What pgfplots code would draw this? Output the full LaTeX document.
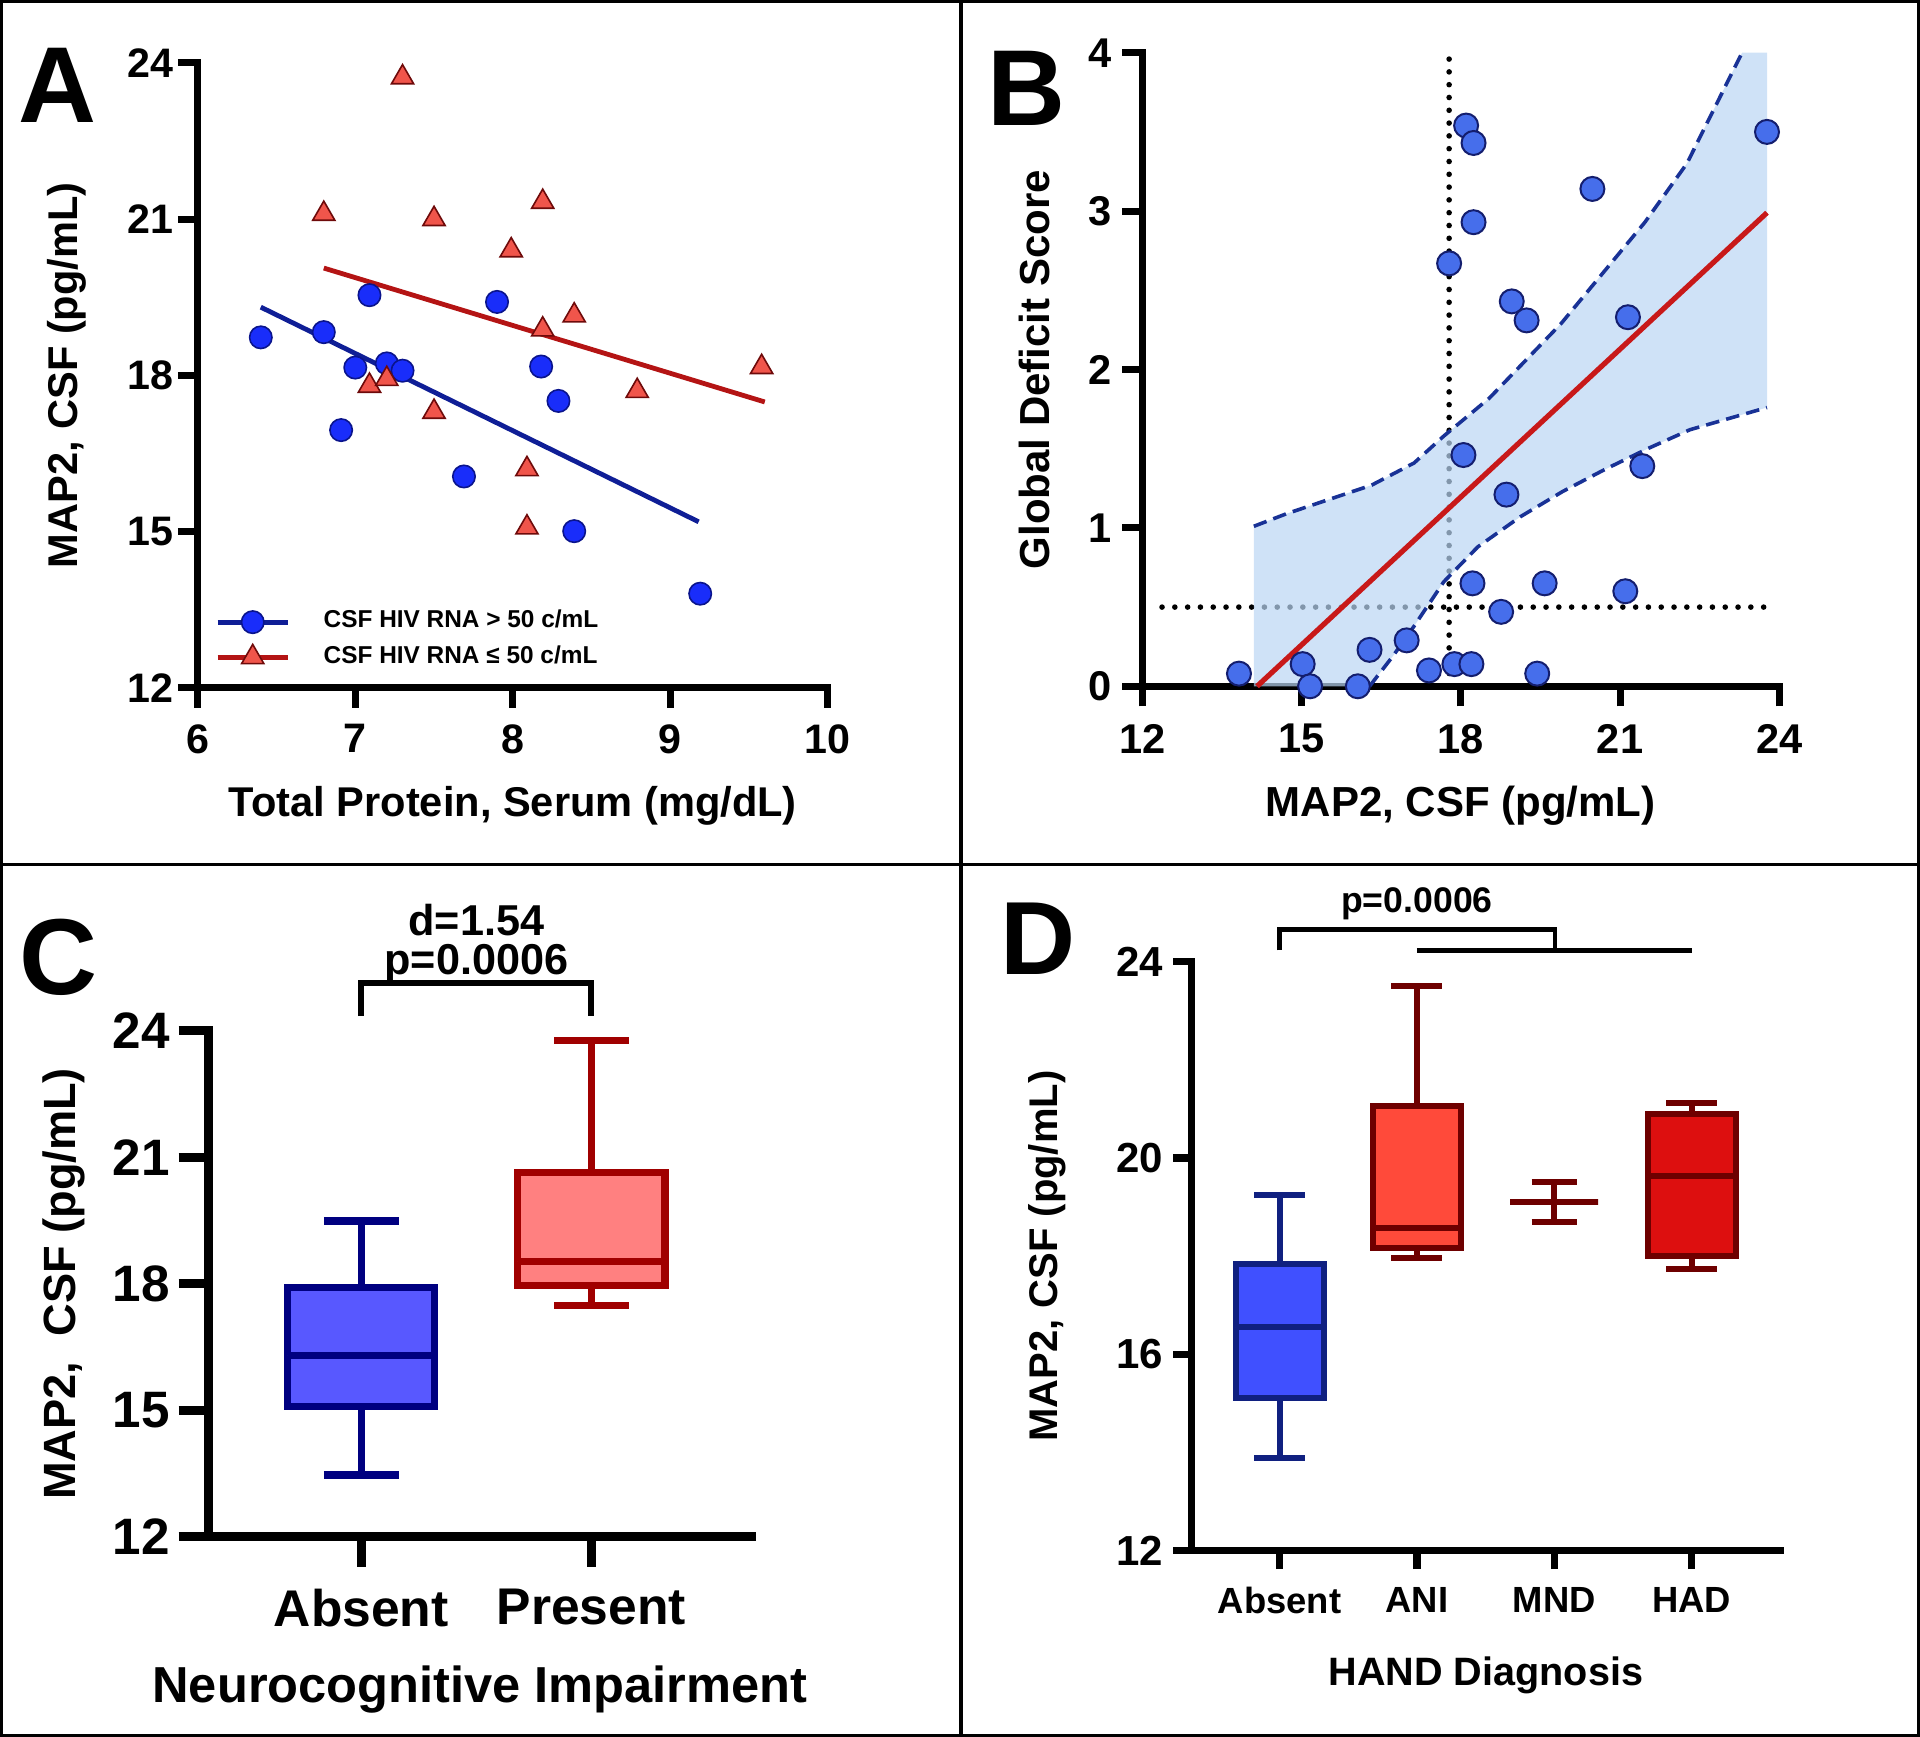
\documentclass[border=0pt]{standalone}
\usepackage{fontspec}
\setmainfont{Liberation Sans}
\usepackage{pgfplots}
\pgfplotsset{compat=1.18}
\usepgfplotslibrary{statistics}

\definecolor{aBlue}{RGB}{25,45,250}
\definecolor{aBlueEdge}{RGB}{10,20,140}
\definecolor{aBlueLine}{RGB}{15,30,150}
\definecolor{aRed}{RGB}{240,85,75}
\definecolor{aRedEdge}{RGB}{110,10,10}
\definecolor{aRedLine}{RGB}{180,20,20}
\definecolor{bDot}{RGB}{70,110,235}
\definecolor{bDotEdge}{RGB}{20,30,110}
\definecolor{bBand}{RGB}{186,214,244}
\definecolor{bDash}{RGB}{25,50,150}
\definecolor{bRed}{RGB}{200,25,25}
\definecolor{cBlue}{RGB}{88,88,255}
\definecolor{cBlueEdge}{RGB}{0,0,128}
\definecolor{cRed}{RGB}{255,128,128}
\definecolor{cRedEdge}{RGB}{160,0,0}
\definecolor{dBlue}{RGB}{64,80,255}
\definecolor{dBlueEdge}{RGB}{16,32,128}
\definecolor{dAni}{RGB}{255,74,58}
\definecolor{dHad}{RGB}{221,15,15}
\definecolor{dRedEdge}{RGB}{110,0,0}

\newcommand{\fs}[1]{\fontsize{#1}{#1}\selectfont\bfseries}

\pgfplotsset{
  prism/.style={
    scale only axis,
    axis x line*=bottom, axis y line*=left,
    axis line style={-, line width=#1, line cap=rect},
    tick align=outside,
    tick style={black, line width=#1},
    /pgf/number format/assume math mode=true,
    tick label style={inner sep=1pt},
    clip=false,
  },
  % the one dummy point given to each prepared box is hidden
  hidebox/.style={mark=*, mark size=0pt, mark options={opacity=0}},
}

\begin{document}
\begin{tikzpicture}
\useasboundingbox (0,0) rectangle (480pt,434.25pt);
\draw[line width=0.8pt] (0.4pt,0.4pt) rectangle (479.6pt,433.85pt);
\draw[line width=0.8pt] (240.25pt,0pt) -- (240.25pt,434.25pt);
\draw[line width=0.8pt] (0pt,218.1pt) -- (480pt,218.1pt);

%% ---------- A ----------
\begin{axis}[prism=1.75pt,
  at={(49.45pt,262.25pt)}, anchor=south west,
  width=157.5pt, height=156.3pt,
  xmin=6, xmax=10, ymin=12, ymax=24,
  xtick={6,7,8,9,10}, ytick={12,15,18,21,24},
  major tick length=5pt,
  tick label style={font=\fs{10.3}},
  xticklabel style={yshift=-2.9pt},
  xlabel={Total Protein, Serum (mg/dL)},
  ylabel={MAP2, CSF (pg/mL)},
  label style={font=\fs{10.4}},
  xlabel style={at={(axis description cs:0.5,-0.188)}, anchor=center},
  ylabel style={at={(axis description cs:-0.2076,0.5)}, anchor=center},
  legend style={draw=none, fill=none, at={(axis cs:6.03,13.66)},
    anchor=north west, font=\fs{6.1}, nodes={inner sep=0pt},
    column sep=8.4pt, row sep=2.6pt},
  legend cell align=left,
  legend image code/.code={
    \draw[#1, mark=none] (0pt,0pt) -- (17.5pt,0pt);
    \draw[#1, only marks] plot coordinates {(8.75pt,0pt)};},
]
\addlegendimage{aBlueLine, line width=1.2pt, mark=*, mark size=2.8pt,
  mark options={fill=aBlue, draw=aBlueEdge, line width=0.4pt}}
\addlegendentry{CSF HIV RNA > 50 c/mL}
\addlegendimage{aRedLine, line width=1.2pt, mark=triangle*, mark size=3.2pt,
  mark options={fill=aRed, draw=aRedEdge, line width=0.4pt}}
\addlegendentry{CSF HIV RNA ≤ 50 c/mL}
\addplot[aBlueLine, line width=1.2pt, forget plot] coordinates {(6.40,19.31) (9.18,15.19)};
\addplot[aRedLine, line width=1.2pt, forget plot] coordinates {(6.80,20.06) (9.60,17.49)};
\addplot[only marks, mark=*, mark size=2.8pt, forget plot,
  mark options={fill=aBlue, draw=aBlueEdge, line width=0.4pt}] coordinates {
  (6.40,18.73) (6.80,18.83) (7.09,19.54) (7.00,18.15) (7.20,18.23)
  (7.30,18.09) (6.91,16.95) (7.90,19.41) (8.18,18.17) (8.29,17.51)
  (7.69,16.06) (8.39,15.01) (9.19,13.81)
};
\addplot[only marks, mark=triangle*, mark size=3.2pt, forget plot,
  mark options={fill=aRed, draw=aRedEdge, line width=0.4pt}] coordinates {
  (7.30,23.72) (6.80,21.10) (7.50,21.00) (8.19,21.33) (7.99,20.40)
  (8.39,19.15) (8.19,18.88) (9.58,18.16) (8.79,17.70) (7.09,17.80)
  (7.20,17.93) (7.50,17.30) (8.09,16.20) (8.09,15.08)
};
\end{axis}

%% ---------- B ----------
\begin{axis}[prism=1.75pt,
  at={(285.6pt,262.675pt)}, anchor=south west,
  width=159.2pt, height=158.4pt,
  xmin=12, xmax=24, ymin=0, ymax=4,
  xtick={12,15,18,21,24}, ytick={0,1,2,3,4},
  major tick length=5pt,
  tick label style={font=\fs{10.4}},
  xticklabel style={yshift=-3.3pt},
  yticklabel style={xshift=-1.6pt},
  xlabel={MAP2, CSF (pg/mL)},
  ylabel={Global Deficit Score},
  label style={font=\fs{10.5}},
  xlabel style={at={(axis description cs:0.5,-0.188)}, anchor=center},
  ylabel style={at={(axis description cs:-0.169,0.5)}, anchor=center},
]
\addplot[black, line width=1.4pt, line cap=round, dash pattern=on 0pt off 3.2pt]
  coordinates {(17.78,0) (17.78,4)};
\addplot[black, line width=1.4pt, line cap=round, dash pattern=on 0pt off 3.2pt]
  coordinates {(12.37,0.5) (23.85,0.5)};
\addplot[draw=none, fill=bBand, fill opacity=0.7] coordinates {
  (14.10,0) (14.10,1.01) (14.72,1.09) (15.52,1.18) (16.32,1.27)
  (17.12,1.41) (17.68,1.58) (18.54,1.82) (19.89,2.29) (20.68,2.61)
  (21.47,2.93) (22.26,3.30) (23.30,4.00) (23.77,4.00)
  (23.77,1.76) (22.32,1.62) (21.52,1.50) (20.72,1.37) (19.92,1.23)
  (19.12,1.07) (18.32,0.88) (17.68,0.66) (17.12,0.38) (16.72,0.19)
  (16.28,0)
};
\addplot[bDash, line width=0.9pt, dash pattern=on 3.4pt off 1.8pt] coordinates {
  (14.10,1.01) (14.72,1.09) (15.52,1.18) (16.32,1.27) (17.12,1.41)
  (17.68,1.58) (18.54,1.82) (19.89,2.29) (20.68,2.61) (21.47,2.93)
  (22.26,3.30) (23.30,4.00)
};
\addplot[bDash, line width=0.9pt, dash pattern=on 3.4pt off 1.8pt] coordinates {
  (16.28,0) (16.72,0.19) (17.12,0.38) (17.68,0.66) (18.32,0.88)
  (19.12,1.07) (19.92,1.23) (20.72,1.37) (21.52,1.50) (22.32,1.62)
  (23.77,1.76)
};
\addplot[bRed, line width=1.3pt] coordinates {(14.16,0) (23.77,2.99)};
\addplot[only marks, mark=*, mark size=3pt,
  mark options={fill=bDot, draw=bDotEdge, line width=0.5pt}] coordinates {
  (13.82,0.08) (15.02,0.14) (15.16,0.0) (16.06,0.0) (16.28,0.23)
  (16.98,0.29) (17.40,0.10) (17.88,0.14) (18.20,0.14) (19.44,0.08)
  (18.76,0.47) (18.22,0.65) (19.58,0.65) (21.10,0.60) (18.86,1.21)
  (18.05,1.46) (21.42,1.39) (18.96,2.43) (19.24,2.31) (21.15,2.33)
  (17.78,2.67) (18.24,2.93) (20.48,3.14) (18.10,3.54) (18.24,3.43)
  (23.77,3.50)
};
\end{axis}

%% ---------- C ----------
\begin{axis}[prism=2.2pt,
  at={(52.05pt,50.025pt)}, anchor=south west,
  width=135.9pt, height=126.5pt,
  xmin=-0.665, xmax=1.697, ymin=12, ymax=24,
  xtick={0,1}, xticklabels={Absent,Present}, ytick={12,15,18,21,24},
  major tick length=7.4pt,
  tick label style={font=\fs{12.8}},
  xticklabel style={yshift=-4.5pt, font=\fs{12.9}},
  yticklabel style={xshift=-1pt},
  xlabel={Neurocognitive Impairment},
  ylabel={MAP2,\ \ CSF (pg/mL)},
  xlabel style={font=\fs{12.65}, at={(axis description cs:0.5,-0.3025)}, anchor=center},
  ylabel style={font=\fs{11.3}, at={(axis description cs:-0.266,0.5)}, anchor=center},
  boxplot/draw direction=y,
]
\addplot[hidebox, boxplot prepared={draw position=0, lower whisker=13.47,
  lower quartile=15.09, median=16.30, upper quartile=17.92,
  upper whisker=19.49, box extend=0.64, whisker extend=0.324},
  draw=cBlueEdge, fill=cBlue, line width=1.8pt] coordinates {(0,16.30)};
\addplot[hidebox, boxplot prepared={draw position=1, lower whisker=17.49,
  lower quartile=17.96, median=18.54, upper quartile=20.64,
  upper whisker=23.78, box extend=0.64, whisker extend=0.324},
  draw=cRedEdge, fill=cRed, line width=1.8pt] coordinates {(1,18.54)};
\draw[black, line width=1.5pt] (axis cs:0,24.35) -- (axis cs:0,25.13)
  -- (axis cs:1,25.13) -- (axis cs:1,24.35);
\node[font=\fs{10.8}, inner sep=0pt] at (axis cs:0.5,26.62) {d=1.54};
\node[font=\fs{10.8}, inner sep=0pt] at (axis cs:0.5,25.6) {p=0.0006};
\end{axis}

%% ---------- D ----------
\begin{axis}[prism=1.8pt,
  at={(297.85pt,46.55pt)}, anchor=south west,
  width=147.25pt, height=147.3pt,
  xmin=-0.642, xmax=3.647, ymin=12, ymax=24,
  xtick={0,1,2,3}, xticklabels={Absent,ANI,MND,HAD}, ytick={12,16,20,24},
  major tick length=4.6pt,
  tick label style={font=\fs{10.5}},
  xticklabel style={yshift=-3.4pt, font=\fs{9.1}},
  yticklabel style={xshift=-1.3pt},
  xlabel={HAND Diagnosis},
  ylabel={MAP2, CSF (pg/mL)},
  xlabel style={font=\fs{9.9}, at={(axis description cs:0.5,-0.211)}, anchor=center},
  ylabel style={font=\fs{10}, at={(axis description cs:-0.245,0.5)}, anchor=center},
  boxplot/draw direction=y,
]
\addplot[hidebox, boxplot prepared={draw position=0, lower whisker=13.89,
  lower quartile=15.12, median=16.55, upper quartile=17.84,
  upper whisker=19.24, box extend=0.64, whisker extend=0.37},
  draw=dBlueEdge, fill=dBlue, line width=1.5pt] coordinates {(0,16.55)};
\addplot[hidebox, boxplot prepared={draw position=1, lower whisker=17.97,
  lower quartile=18.16, median=18.58, upper quartile=21.05,
  upper whisker=23.50, box extend=0.64, whisker extend=0.37},
  draw=dRedEdge, fill=dAni, line width=1.5pt] coordinates {(1,18.58)};
\addplot[hidebox, boxplot prepared={draw position=2, lower whisker=18.69,
  lower quartile=19.10, median=19.10, upper quartile=19.10,
  upper whisker=19.51, box extend=0.64, whisker extend=0.33},
  draw=dRedEdge, line width=1.5pt] coordinates {(2,19.10)};
\addplot[hidebox, boxplot prepared={draw position=3, lower whisker=17.73,
  lower quartile=18.01, median=19.63, upper quartile=20.90,
  upper whisker=21.13, box extend=0.64, whisker extend=0.37},
  draw=dRedEdge, fill=dHad, line width=1.5pt] coordinates {(3,19.63)};
\draw[black, line width=1.2pt] (axis cs:0,24.23) -- (axis cs:0,24.65)
  -- (axis cs:2.006,24.65) -- (axis cs:2.006,24.23);
\draw[black, line width=1.2pt] (axis cs:1,24.23) -- (axis cs:3,24.23);
\node[font=\fs{8.9}] at (axis cs:1.0,25.18) {p=0.0006};
\end{axis}

\node[font=\fs{27}] at (14.4pt,412.8pt) {A};
\node[font=\fs{27}] at (256.5pt,412.2pt) {B};
\node[font=\fs{27}] at (14.7pt,194.8pt) {C};
\node[font=\fs{26}] at (259.5pt,199.5pt) {D};
\end{tikzpicture}
\end{document}
